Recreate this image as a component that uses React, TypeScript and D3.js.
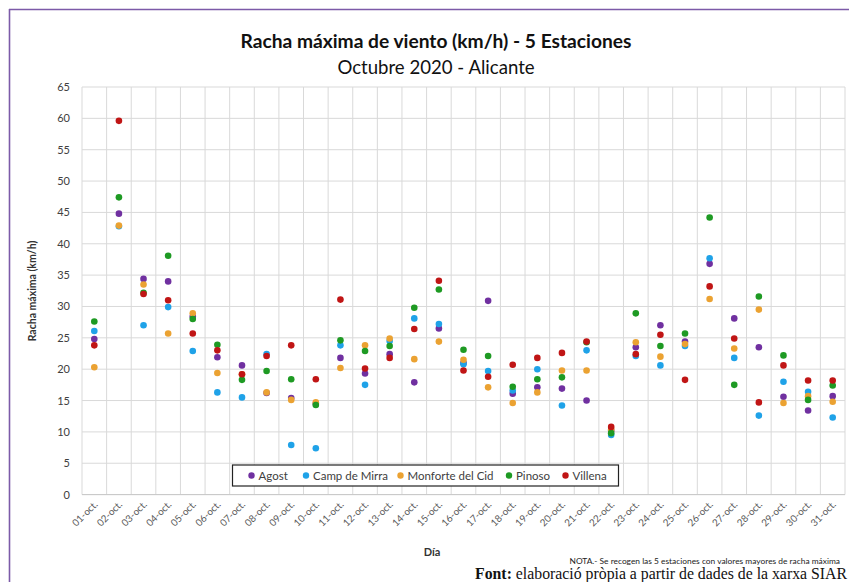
import { useMemo } from "react";
import * as d3 from "d3";

const DAYS = [
  "01-oct.", "02-oct.", "03-oct.", "04-oct.", "05-oct.", "06-oct.", "07-oct.", "08-oct.",
  "09-oct.", "10-oct.", "11-oct.", "12-oct.", "13-oct.", "14-oct.", "15-oct.", "16-oct.",
  "17-oct.", "18-oct.", "19-oct.", "20-oct.", "21-oct.", "22-oct.", "23-oct.", "24-oct.",
  "25-oct.", "26-oct.", "27-oct.", "28-oct.", "29-oct.", "30-oct.", "31-oct."
];

const STATIONS = ["Agost", "Camp de Mirra", "Monforte del Cid", "Pinoso", "Villena"];
const COLORS = ["#7030a0", "#1fa2e8", "#eba232", "#1e9a23", "#c01515"];

const AGOST = [
  24.8, 44.8, 34.4, 34.0, 28.4, 21.9, 20.6, 16.2, 15.4, 14.5, 21.8, 19.3, 22.4, 17.9, 26.5, 21.0,
  30.9, 16.1, 17.1, 16.9, 15.0, 10.2, 23.5, 27.0, 24.4, 36.8, 28.1, 23.5, 15.6, 13.4, 15.7
];
const CAMP_DE_MIRRA = [
  26.1, 42.8, 27.0, 29.9, 22.9, 16.3, 15.5, 22.4, 7.9, 7.4, 23.8, 17.5, 24.5, 28.1, 27.2, 20.8,
  19.7, 16.6, 20.0, 14.2, 23.0, 9.5, 22.1, 20.6, 23.7, 37.7, 21.8, 12.6, 18.0, 16.4, 12.3
];
const MONFORTE = [
  20.3, 42.9, 33.5, 25.7, 28.9, 19.4, 19.2, 16.3, 15.1, 14.7, 20.2, 23.8, 24.9, 21.6, 24.4, 21.5,
  17.1, 14.6, 16.3, 19.8, 19.8, 10.4, 24.3, 22.0, 24.0, 31.2, 23.3, 29.5, 14.6, 15.7, 14.8
];
const PINOSO = [
  27.6, 47.4, 32.2, 38.1, 28.0, 23.9, 18.3, 19.7, 18.4, 14.3, 24.6, 22.9, 23.7, 29.8, 32.7, 23.1,
  22.1, 17.2, 18.4, 18.7, 24.3, 9.8, 28.9, 23.7, 25.7, 44.2, 17.5, 31.6, 22.2, 15.1, 17.4
];
const VILLENA = [
  23.8, 59.6, 32.0, 31.0, 25.7, 23.0, 19.2, 22.1, 23.8, 18.4, 31.1, 20.1, 21.8, 26.4, 34.1, 19.8,
  18.8, 20.7, 21.8, 22.6, 24.4, 10.8, 22.4, 25.5, 18.3, 33.2, 24.9, 14.7, 20.6, 18.2, 18.2
];

const SERIES = [AGOST, CAMP_DE_MIRRA, MONFORTE, PINOSO, VILLENA];
const Y_TICKS = d3.range(0, 70, 5);

const W = 849;
const H = 582;
const FONT = "Lato, 'Open Sans', sans-serif";

export default function App() {
  const x = useMemo(() => d3.scaleBand<string>().domain(DAYS).range([82, 845]), []);
  const y = useMemo(() => d3.scaleLinear().domain([0, 65]).range([494.6, 87]), []);
  const bw = x.bandwidth();
  const [x0, x1] = x.range();

  const legendX = [251.5, 306, 400.5, 509, 565.5];

  return (
    <svg
      width={W}
      height={H}
      style={{ position: "absolute", left: 0, top: 0, background: "#fff" }}
      fontFamily={FONT}
    >
      <rect x={0} y={0} width={W} height={H} fill="#fff" />
      {/* outer frame */}
      <line x1={9} x2={W} y1={9.5} y2={9.5} stroke="#7c5aa8" strokeWidth={1.6} />
      <line x1={9.5} x2={9.5} y1={9} y2={H} stroke="#7c5aa8" strokeWidth={1.6} />

      <text x={436} y={48} textAnchor="middle" fontSize={19.2} fontWeight="bold" fill="#111">
        Racha máxima de viento (km/h) - 5 Estaciones
      </text>
      <text x={436} y={73.5} textAnchor="middle" fontSize={18.6} fill="#111">
        Octubre 2020 - Alicante
      </text>

      {/* grid */}
      {Y_TICKS.map((t) => (
        <line key={"h" + t} x1={x0} x2={x1} y1={y(t)} y2={y(t)} stroke="#d9d9d9" strokeWidth={1} />
      ))}
      {d3.range(DAYS.length + 1).map((i) => {
        const xx = x0 + i * bw;
        return <line key={"v" + i} x1={xx} x2={xx} y1={y(65)} y2={y(0)} stroke="#d9d9d9" strokeWidth={1} />;
      })}
      <line x1={x0} x2={x1} y1={y(0)} y2={y(0)} stroke="#c8c8c8" strokeWidth={1} />

      {/* y ticks */}
      {Y_TICKS.map((t) => (
        <text key={"yt" + t} x={70} y={y(t) + 4} textAnchor="end" fontSize={11} fill="#404040">
          {t}
        </text>
      ))}

      {/* x ticks */}
      {DAYS.map((d) => {
        const cx = (x(d) ?? 0) + bw / 2 + 4;
        const cy = 505;
        return (
          <text
            key={"xt" + d}
            x={cx}
            y={cy}
            textAnchor="end"
            fontSize={9.8}
            fill="#595959"
            transform={`rotate(-45 ${cx} ${cy})`}
          >
            {d}
          </text>
        );
      })}

      <text
        x={36}
        y={291}
        textAnchor="middle"
        fontSize={10.5}
        fontWeight="bold"
        fill="#333"
        transform="rotate(-90 36 291)"
      >
        Racha máxima (km/h)
      </text>
      <text x={432} y={556} textAnchor="middle" fontSize={11} fontWeight="bold" fill="#333">
        Día
      </text>

      {/* points */}
      {SERIES.map((vals, s) => (
        <g key={STATIONS[s]} fill={COLORS[s]}>
          {vals.map((v, i) => (
            <circle key={i} cx={(x(DAYS[i]) ?? 0) + bw / 2} cy={y(v)} r={3.3} />
          ))}
        </g>
      ))}

      {/* legend */}
      <rect x={232.5} y={465} width={386} height={21} fill="#fff" stroke="#222" strokeWidth={1.2} />
      {STATIONS.map((s, i) => (
        <g key={"lg" + s}>
          <circle cx={legendX[i]} cy={475.5} r={3.2} fill={COLORS[i]} />
          <text x={legendX[i] + 7} y={479.5} fontSize={11.5} fill="#404040">
            {s}
          </text>
        </g>
      ))}

      <text x={840} y={564} textAnchor="end" fontSize={8.4} fill="#222">
        NOTA.- Se recogen las 5 estaciones con valores mayores de racha máxima
      </text>
      <text x={847} y={579} textAnchor="end" fontSize={15.8} fill="#111" fontFamily="'Liberation Serif', 'DejaVu Serif', serif">
        <tspan fontWeight="bold">Font:</tspan> elaboració pròpia a partir de dades de la xarxa SIAR
      </text>
    </svg>
  );
}
